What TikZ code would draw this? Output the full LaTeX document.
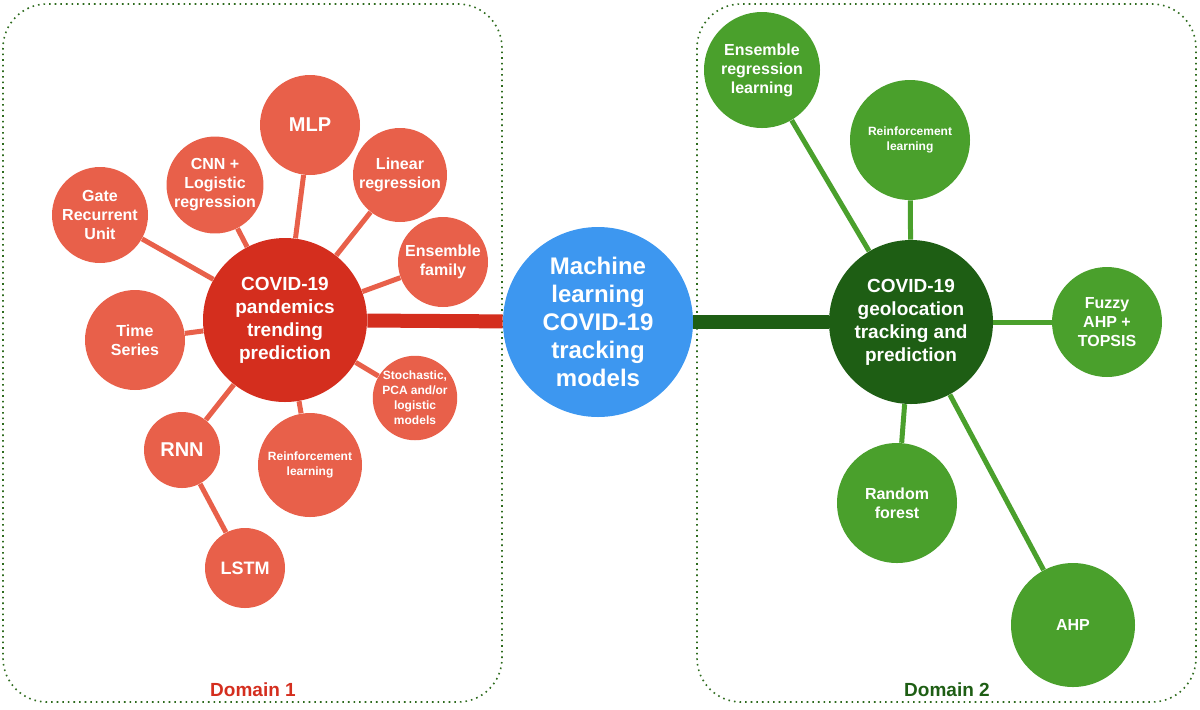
\documentclass[tikz,border=0pt]{standalone}
\usepackage{fontspec}
\setmainfont{Liberation Sans}
\definecolor{hubred}{HTML}{D42E1E}
\definecolor{satred}{HTML}{E8604A}
\definecolor{hubgreen}{HTML}{1E5E14}
\definecolor{satgreen}{HTML}{4AA02C}
\definecolor{midblue}{HTML}{3D97F0}
\definecolor{boxgreen}{HTML}{2E6B1E}
\tikzset{
  ball/.style={circle,inner sep=0pt,align=center,text=white,font=\bfseries},
  red sat/.style={ball,fill=satred,font=\bfseries\fontsize{8}{9.5}\selectfont},
  green sat/.style={ball,fill=satgreen,font=\bfseries\fontsize{8}{9.5}\selectfont},
  tiny/.style={font=\bfseries\fontsize{6}{7.5}\selectfont},
  red link/.style={satred,line width=2.5pt},
  green link/.style={satgreen,line width=2.5pt},
}
\begin{document}
\begin{tikzpicture}[x=0.5pt,y=-0.5pt]
        \useasboundingbox (0,0) rectangle (1200,709);
        \draw[boxgreen,dotted,thick,rounded corners=22pt] (3,4) rectangle (502,702);
        \draw[boxgreen,dotted,thick,rounded corners=22pt] (697,4) rectangle (1196,702);

        \node [ball,fill=midblue,minimum size=95pt,font=\bfseries\fontsize{12}{14}\selectfont] (ML) at (598,322) {Machine\\learning\\COVID-19\\tracking\\models};
        \node [ball,fill=hubred,minimum size=82pt,font=\bfseries\fontsize{9.5}{11.5}\selectfont] (Trend) at (285,320) {COVID-19\\pandemics\\trending\\prediction};
        \node [ball,fill=hubgreen,minimum size=82pt,font=\bfseries\fontsize{9.5}{11.5}\selectfont] (Geo) at (911,322) {COVID-19\\geolocation\\tracking and\\prediction};

        % Domain 1
        \node [red sat,minimum size=50pt,font=\bfseries\fontsize{10}{12}\selectfont] (MLP) at (310,125) {MLP};
        \node [red sat,minimum size=47pt] (CNN) at (215,185) {CNN +\\Logistic\\regression};
        \node [red sat,minimum size=48pt] (GRU) at (100,215) {Gate\\Recurrent\\Unit};
        \node [red sat,minimum size=47pt] (Lin) at (400,175) {Linear\\regression};
        \node [red sat,minimum size=45pt] (Ens) at (443,262) {Ensemble\\family};
        \node [red sat,minimum size=50pt] (TS) at (135,340) {Time\\Series};
        \node [red sat,minimum size=38pt,font=\bfseries\fontsize{10}{12}\selectfont] (RNN) at (182,450) {RNN};
        \node [red sat,minimum size=40pt,font=\bfseries\fontsize{9}{11}\selectfont] (LSTM) at (245,568) {LSTM};
        \node [red sat,tiny,minimum size=52pt] (RL1) at (310,465) {Reinforcement\\learning};
        \node [red sat,tiny,minimum size=40pt] (Sto) at (415,398) {Stochastic,\\PCA and/or\\logistic\\models};

        % Domain 2
        \node [green sat,minimum size=58pt] (EnsR) at (762,70) {Ensemble\\regression\\learning};
        \node [green sat,tiny,minimum size=60pt] (RL2) at (910,140) {Reinforcement\\learning};
        \node [green sat,minimum size=55pt] (Fuz) at (1107,322) {Fuzzy\\AHP +\\TOPSIS};
        \node [green sat,minimum size=60pt] (RF) at (897,503) {Random\\forest};
        \node [green sat,minimum size=62pt] (AHP) at (1073,625) {AHP};

        \node [text=hubred,font=\bfseries\fontsize{9.5}{11}\selectfont] (D1) at (253,690) {Domain 1};
        \node [text=hubgreen,font=\bfseries\fontsize{9.5}{11}\selectfont] (D2) at (947,690) {Domain 2};

        % Edges
        \begin{scope}[on background layer/.style={}]
        \draw[hubred,line width=7pt] (Trend) -- (ML);
        \draw[hubgreen,line width=7pt] (ML) -- (Geo);
        \foreach \s in {MLP,CNN,GRU,Lin,Ens,TS,RNN,RL1,Sto}
            \draw[red link] (Trend) -- (\s);
        \draw[red link] (RNN) -- (LSTM);
        \foreach \s in {EnsR,RL2,Fuz,RF,AHP}
            \draw[green link] (Geo) -- (\s);
        \end{scope}
\end{tikzpicture}
\end{document}
